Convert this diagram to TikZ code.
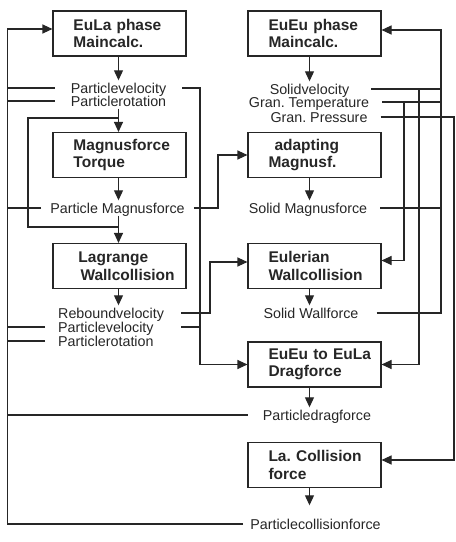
\documentclass[tikz,border=0pt]{standalone}
\usepackage{fontspec}
\setmainfont{Liberation Sans}
\usetikzlibrary{arrows.meta}
\definecolor{ink}{HTML}{262626}
\frenchspacing
\newcommand{\boxfont}{\hyphenpenalty10000 \fontsize{15.5}{17.5}\selectfont\bfseries}
\tikzset{>={Triangle[length=10pt,width=9pt]},box/.style={draw=ink,line width=1.1pt,minimum width=133pt,minimum height=45pt,text width=92pt,align=left,text=ink,font=\boxfont},lbl/.style={text=ink,font=\fontsize{14.3}{13.3}\selectfont,text height=12pt,text depth=1pt,inner ysep=1pt,inner xsep=13pt},lcol/.style={lbl,text width=110pt,align=left,anchor=west},arr/.style={->,line width=1.1pt,draw=ink},wire/.style={line width=1.1pt,draw=ink}}

\begin{document}
\begin{tikzpicture}[x=1pt,y=-1pt]
\useasboundingbox (0,0) rectangle (456,542);
% Lagrange side
\node[box] (eula) at (119.5,33.5) {EuLa~phase\\Maincalc.};
\node[lbl,inner xsep=16pt] (pvelA) at (118.5,88) {Particlevelocity};
\node[lbl,inner xsep=16pt] (protA) at (118.5,101) {Particlerotation};
\node[box] (magtq) at (119.5,155) {Magnusforce\\Torque};
\node[lbl,inner xsep=9pt] (pmag) at (117.5,208) {Particle Magnusforce};
\node[box] (lagwc) at (119.5,266) {\hspace*{5pt}Lagrange\\\hspace*{7pt}Wallcollision};
\node[lcol] (rvel) at (45,313) {Reboundvelocity};
\node[lcol] (pvelB) at (45,327) {Particlevelocity};
\node[lcol] (protB) at (45,341) {Particlerotation};
% Euler side
\node[box] (eueu) at (314.5,33.5) {EuEu~phase\\Maincalc.};
\node[lbl,inner xsep=22pt] (svel) at (309.5,89) {Solidvelocity};
\node[lbl] (gtemp) at (309,102) {Gran. Temperature};
\node[lbl] (gpres) at (319,117) {Gran. Pressure};
\node[box] (adapt) at (314.5,155) {\hspace*{6pt}adapting\\Magnusf.};
\node[lbl] (smag) at (308,208) {Solid Magnusforce};
\node[box] (eulwc) at (314.5,266) {Eulerian\\Wallcollision};
\node[lbl,inner xsep=18pt] (swall) at (311,313) {Solid Wallforce};
\node[box] (drag) at (314.5,364.5) {EuEu~to~EuLa\\Dragforce};
\node[lbl,inner xsep=15pt] (pdrag) at (317,415) {Particledragforce};
\node[box] (lacoll) at (314.5,465) {La.~Collision\\force};
\node[lbl,inner xsep=7pt] (pcoll) at (315.5,524) {Particlecollisionforce};
% bus positions
\coordinate (cl) at (118.5,0); \coordinate (cr) at (309.5,0);
\coordinate (lb) at (7.5,524); \coordinate (lo) at (28,227);
\coordinate (pb) at (200,0); \coordinate (wx) at (210,0); \coordinate (mx) at (218,0);
\coordinate (ga) at (404,0); \coordinate (gb) at (419,0); \coordinate (gc) at (441,0); \coordinate (gd) at (454,0);
\coordinate (ein) at ([yshift=4.5pt]eula.west); \coordinate (eein) at ([yshift=3.5pt]eueu.east);
\coordinate (wl) at ([yshift=4pt]eulwc.west); \coordinate (wr) at ([yshift=5.5pt]eulwc.east);
\coordinate (lin) at ([yshift=5pt]lacoll.east);
% down the columns
\draw[arr] (eula.south -| cl) -- (pvelA.north -| cl);
\draw[arr] (protA.south -| cl) -- (magtq.north -| cl);
\draw[arr] (magtq.south -| cl) -- (pmag.north -| cl);
\draw[arr] (pmag.south -| cl) -- (lagwc.north -| cl);
\draw[arr] (lagwc.south -| cl) -- (rvel.north -| cl);
\draw[wire] (cl |- 0,118) -| (lo) -- (lo -| cl);
\draw[arr] (eueu.south -| cr) -- (svel.north -| cr);
\draw[arr] (adapt.south -| cr) -- (smag.north -| cr);
\draw[arr] (eulwc.south -| cr) -- (swall.north -| cr);
\draw[arr] (drag.south -| cr) -- (pdrag.north -| cr);
\draw[arr,shorten >=11pt] (lacoll.south -| cr) -- (pcoll.north -| cr);
% back to the Lagrange main calculation
\draw[arr] (pcoll.west) -- (lb) |- (ein);
\foreach \n in {pvelA,protA,pmag,pvelB,protB,pdrag} \draw[wire] (\n.west) -- (\n.west -| lb);
% across
\draw[arr] (pvelA.east) -| (pb |- drag.west) -- (drag.west);
\draw[wire] (pvelB.east) -- (pvelB.east -| pb);
\draw[arr] (pmag.east) -| (mx |- adapt.west) -- (adapt.west);
\draw[arr] (rvel.east) -| (wx |- wl) -- (wl);
% back to the Euler main calculation
\draw[arr] (swall.east) -| (gc |- eein) -- (eein);
\foreach \n in {svel,gtemp,smag} \draw[wire] (\n.east) -- (\n.east -| gc);
\draw[arr] (gtemp.east) -| (ga |- wr) -- (wr);
\draw[arr] (svel.east) -| (gb |- drag.east) -- (drag.east);
\draw[arr] (gpres.east) -| (gd |- lin) -- (lin);
\end{tikzpicture}
\end{document}
